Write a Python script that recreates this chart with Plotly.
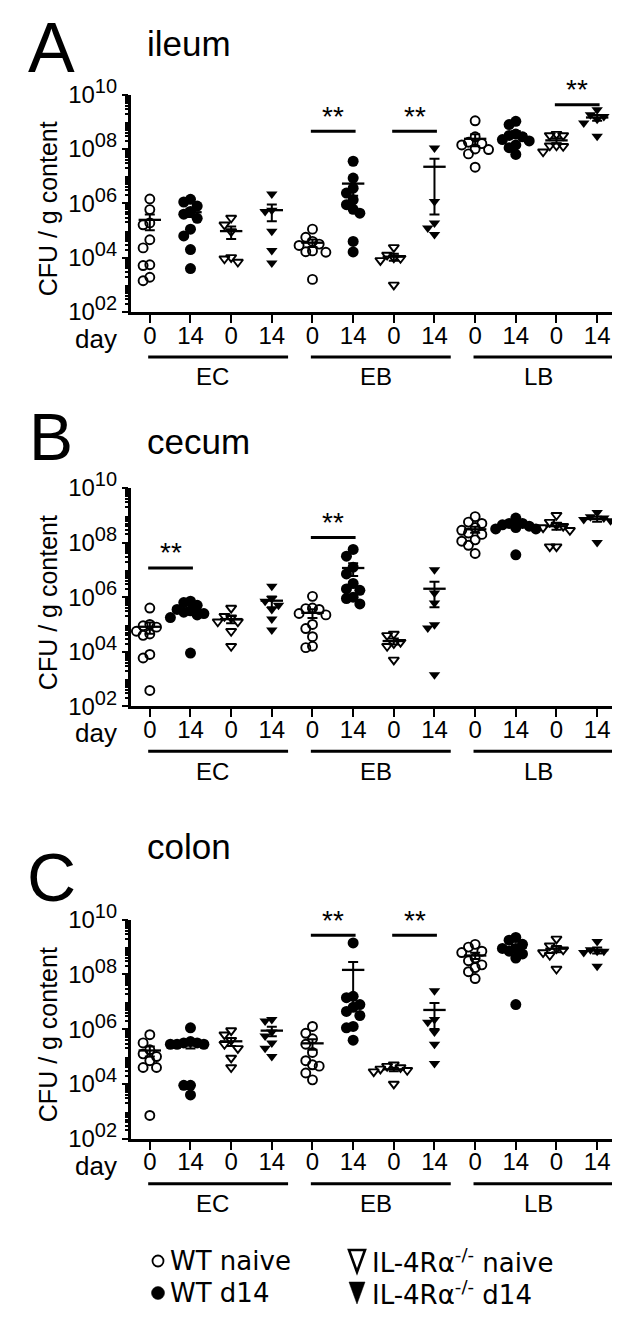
import numpy as np
import plotly.graph_objects as go

W, H = 620, 1332
FONT = "Liberation Sans, Arial, Helvetica, sans-serif"
LEG_FONT = "DejaVu Sans, Liberation Sans, Arial, sans-serif"

# ---------------- data ----------------
panel_letters = ["A", "B", "C"]
panel_titles = ["ileum", "cecum", "colon"]
infection_groups = ["EC", "EB", "LB"]
day_labels = ["0", "14", "0", "14", "0", "14", "0", "14", "0", "14", "0", "14"]
series_names = ["WT naive", "WT d14",
                "IL-4R\u03b1<sup>-/-</sup> naive", "IL-4R\u03b1<sup>-/-</sup> d14"]
y_tick_exponents = [2, 4, 6, 8, 10]
y_tick_sup = ["02", "04", "06", "08", "10"]

# log10(CFU / g content); columns: EC WT0, EC WT14, EC KO0, EC KO14, EB ..., LB ...
ileum_log10 = [
    [6.16, 5.77, 5.28, 5.21, 4.66, 4.36, 3.74, 3.71, 3.28, 3.15],
    [6.15, 6.05, 5.9, 5.7, 5.6, 5.45, 5.05, 4.8, 4.3, 3.6],
    [5.46, 5.21, 4.97, 4.01, 3.96, 3.84],
    [6.34, 5.75, 5.7, 4.97, 4.26, 3.8],
    [5.05, 4.75, 4.6, 4.5, 4.45, 4.25, 4.22, 4.2, 3.2],
    [7.55, 6.93, 6.56, 6.38, 6.13, 5.95, 5.78, 5.64, 4.6, 4.21],
    [4.38, 4.1, 4.0, 3.98, 3.9, 3.0],
    [8.04, 6.07, 5.28, 5.09, 4.85],
    [9.04, 8.45, 8.25, 8.2, 8.15, 8.0, 7.98, 7.82, 7.33],
    [9.02, 8.9, 8.55, 8.5, 8.45, 8.35, 8.3, 8.15, 8.05, 7.8],
    [8.5, 8.55, 8.5, 8.12, 8.12, 8.1, 7.9],
    [9.45, 9.26, 9.2, 9.1, 8.96, 8.47],
]
cecum_log10 = [
    [5.6, 5.0, 4.95, 4.9, 4.75, 4.65, 4.6, 3.9, 3.77, 2.58],
    [5.85, 5.8, 5.7, 5.55, 5.5, 5.45, 5.4, 5.35, 5.25, 3.95],
    [5.6, 5.3, 5.25, 5.1, 5.1, 4.75, 4.2],
    [6.4, 5.95, 5.85, 5.7, 5.55, 5.2, 4.8],
    [6.03, 5.6, 5.58, 5.55, 5.4, 5.35, 5.0, 4.85, 4.55, 4.2, 4.15],
    [7.75, 7.5, 7.1, 6.85, 6.5, 6.3, 6.25, 6.0, 5.95, 5.75],
    [4.65, 4.6, 4.35, 4.3, 4.2, 3.7],
    [7.0, 6.15, 5.79, 4.99, 4.87, 3.16],
    [8.95, 8.75, 8.7, 8.55, 8.45, 8.35, 8.3, 8.1, 8.05, 7.9, 7.6],
    [8.9, 8.7, 8.7, 8.65, 8.6, 8.55, 8.5, 8.5, 7.55],
    [9.0, 8.75, 8.65, 8.6, 8.55, 8.45, 7.85, 7.85],
    [9.1, 8.95, 8.9, 8.85, 8.8, 8.0],
]
colon_log10 = [
    [5.8, 5.5, 5.25, 5.1, 5.0, 4.85, 4.6, 4.6, 2.85],
    [6.05, 5.55, 5.5, 5.5, 5.45, 5.45, 5.45, 3.95, 3.95, 3.6],
    [5.95, 5.8, 5.6, 5.45, 5.3, 4.95, 4.6],
    [6.35, 6.3, 5.9, 5.75, 5.5, 5.3, 5.0],
    [6.1, 5.85, 5.65, 5.45, 5.15, 4.85, 4.7, 4.65, 4.4, 4.15],
    [9.15, 7.2, 7.15, 6.9, 6.8, 6.65, 6.5, 6.1, 6.05, 5.6],
    [4.7, 4.65, 4.6, 4.55, 4.5, 4.45, 4.0],
    [7.4, 6.35, 6.25, 5.9, 5.45, 4.75],
    [9.1, 9.0, 8.85, 8.8, 8.6, 8.5, 8.35, 8.25, 8.1, 7.85],
    [9.35, 9.25, 9.1, 8.95, 8.95, 8.85, 8.75, 8.6, 6.9],
    [9.3, 9.05, 8.95, 8.9, 8.8, 8.7, 8.2],
    [9.2, 8.9, 8.85, 8.85, 8.8, 8.3],
]

# significance bars: (column a, column b, bar height as log10)
ileum_sig = [(5, 6, 8.65), (7, 8, 8.65), (11, 12, 9.63)]
cecum_sig = [(1, 2, 7.07), (5, 6, 8.19)]
colon_sig = [(5, 6, 9.43), (7, 8, 9.43)]

panel_data = [ileum_log10, cecum_log10, colon_log10]
panel_sig = [ileum_sig, cecum_sig, colon_sig]

# ---------------- layout geometry (pixels) ----------------
X_LEFT, X_RIGHT = 122.7, 610.7
PLOT_TOP = [86.7, 480.0, 911.7]
PLOT_BOT = [304.0, 698.3, 1130.7]
X_RANGE = [0.53, 12.53]

symbols = ["circle-open", "circle", "triangle-down-open", "triangle-down"]
sizes = [9, 11, 9, 10]
line_w = [1.9, 0, 1.9, 0]


def swarm(vals, px_per_dec, px_per_unit, step_px=6.7, min_dy=8.5):
    vals = np.asarray(vals, dtype=float)
    order = np.argsort(-vals, kind="stable")
    placed = []
    offs = np.zeros(len(vals))
    for idx in order:
        ypx = vals[idx] * px_per_dec
        chosen = 0
        for col in [0, -1, 1, -2, 2, -3, 3]:
            if all(not (c == col and abs(ypx - yy) < min_dy) for c, yy in placed):
                chosen = col
                break
        placed.append((chosen, ypx))
        offs[idx] = chosen * step_px / px_per_unit
    return offs


fig = go.Figure()
annotations = []
shapes = []
minor_vals = [k * 10.0 ** n for n in range(2, 10) for k in range(2, 10)]
y_tick_text = [f"10<sup><span style='font-size:20px'>{s}</span></sup>" for s in y_tick_sup]


def px_to_paper_y(py):
    return 1 - py / H


for k in range(3):
    xa = "x" if k == 0 else f"x{k + 1}"
    ya = "y" if k == 0 else f"y{k + 1}"
    top, bot = PLOT_TOP[k], PLOT_BOT[k]
    px_per_dec = (bot - top) / 8.0
    px_per_unit = (X_RIGHT - X_LEFT) / (X_RANGE[1] - X_RANGE[0])
    data = panel_data[k]

    for g, vals in enumerate(data):
        s = g % 4
        v = np.asarray(vals, dtype=float)
        yv = 10.0 ** v
        offs = swarm(v, px_per_dec, px_per_unit)
        fig.add_trace(go.Scatter(
            x=(g + 1) + offs, y=yv, mode="markers", xaxis=xa, yaxis=ya,
            showlegend=False, cliponaxis=False, hoverinfo="skip",
            marker=dict(symbol=symbols[s], size=sizes[s], color="black",
                        line=dict(color="black", width=line_w[s]))))
    for g, vals in enumerate(data):
        yv = 10.0 ** np.asarray(vals, dtype=float)
        m = yv.mean()
        sem = yv.std(ddof=1) / np.sqrt(len(yv))
        fig.add_trace(go.Scatter(
            x=[g + 1], y=[m], mode="markers", xaxis=xa, yaxis=ya,
            showlegend=False, cliponaxis=False, hoverinfo="skip",
            marker=dict(symbol="line-ew-open", size=16, color="black",
                        line=dict(color="black", width=2.3)),
            error_y=dict(type="data", array=[sem], symmetric=True,
                         width=5, thickness=2, color="black")))

    for a, b, lv in panel_sig[k]:
        fig.add_trace(go.Scatter(
            x=[a - 0.04, b + 0.06], y=[10.0 ** lv, 10.0 ** lv], mode="lines",
            xaxis=xa, yaxis=ya, showlegend=False, hoverinfo="skip",
            line=dict(color="black", width=3)))
        annotations.append(dict(
            x=(a + b) / 2 + 0.01, y=lv, xref=xa, yref=ya, text="**",
            showarrow=False, yanchor="middle", yshift=15,
            font=dict(size=28, color="black", family=FONT)))

    # infection-group underlines and labels
    for gi, name in enumerate(infection_groups):
        first, last = gi * 4 + 1, gi * 4 + 4
        yl = px_to_paper_y(bot + 45)
        shapes.append(dict(type="line", xref=xa, yref="paper",
                           x0=first - 0.04, x1=last + 0.40, y0=yl, y1=yl,
                           line=dict(color="black", width=3)))
        annotations.append(dict(
            x=(first + last) / 2 + 0.05, y=px_to_paper_y(bot + 65), xref=xa,
            yref="paper", text=name, showarrow=False, yanchor="middle",
            font=dict(size=24, color="black", family=FONT)))

    annotations.append(dict(
        x=111 / W, y=px_to_paper_y(bot + 27), xref="paper", yref="paper",
        text="day", showarrow=False, xanchor="right", yanchor="middle",
        font=dict(size=26, color="black", family=FONT)))
    annotations.append(dict(
        x=40 / W, y=px_to_paper_y((top + bot) / 2 + 6), xref="paper", yref="paper",
        text="CFU / g content", showarrow=False, textangle=-90,
        xanchor="center", yanchor="middle",
        font=dict(size=25, color="black", family=FONT)))

    axis_font = dict(size=24, color="black", family=FONT)
    fig.layout[("xaxis" if k == 0 else f"xaxis{k + 1}")] = dict(
        domain=[X_LEFT / W, X_RIGHT / W], range=X_RANGE, anchor=ya,
        tickmode="array", tickvals=list(range(1, 13)), ticktext=day_labels,
        ticks="outside", ticklen=8, tickwidth=2.2, tickcolor="black",
        ticklabelstandoff=-8,
        showline=True, linecolor="black", linewidth=2.6, showgrid=False,
        zeroline=False, tickfont=axis_font, automargin=False, fixedrange=True)
    fig.layout[("yaxis" if k == 0 else f"yaxis{k + 1}")] = dict(
        domain=[px_to_paper_y(bot), px_to_paper_y(top)], type="log",
        range=[2, 10], anchor=xa, tickmode="array",
        tickvals=[10.0 ** e for e in y_tick_exponents], ticktext=y_tick_text,
        ticks="outside", ticklen=6, tickwidth=2.2, tickcolor="black",
        showline=True, linecolor="black", linewidth=2.6, showgrid=False,
        zeroline=False, tickfont=dict(size=24, color="black", family=FONT),
        minor=dict(tickmode="array", tickvals=minor_vals, ticks="outside",
                   ticklen=3, tickwidth=1.5, tickcolor="black", showgrid=False),
        automargin=False, fixedrange=True)

# panel letters and titles
letter_tops = [0, 391, 830]
letter_sizes = [70, 66, 68]
title_baselines = [48, 446, 851]
for k in range(3):
    annotations.append(dict(
        x=43 / W, y=px_to_paper_y(letter_tops[k]), xref="paper", yref="paper",
        text=panel_letters[k], showarrow=False, xanchor="center", yanchor="top",
        borderpad=0,
        font=dict(size=letter_sizes[k], color="black", family=FONT)))
    annotations.append(dict(
        x=137 / W, y=px_to_paper_y(title_baselines[k] - 0.35 * 35), xref="paper",
        yref="paper", text=panel_titles[k], showarrow=False, xanchor="left",
        yanchor="middle", font=dict(size=35, color="black", family=FONT)))

# legend (glyphs + labels)
leg_rows = [1253, 1285]
leg_sym_x = [150, 349]
leg_txt_x = [160, 362]
for s, name in enumerate(series_names):
    col, row = s // 2, s % 2
    cx, cy = leg_sym_x[col], leg_rows[row]
    if col == 0:
        r = 5.5 if s == 0 else 6.5
        shapes.append(dict(
            type="circle", xref="paper", yref="paper",
            x0=(cx - r) / W, x1=(cx + r) / W,
            y0=px_to_paper_y(cy + r), y1=px_to_paper_y(cy - r),
            fillcolor="white" if s == 0 else "black",
            line=dict(color="black", width=1.8 if s == 0 else 0.5)))
    else:
        hw, hh = 8, 11
        pts = [(cx - hw, cy - hh), (cx + hw, cy - hh), (cx, cy + hh)]
        path = "M" + " L".join(f"{px / W:.5f},{px_to_paper_y(py):.5f}" for px, py in pts) + " Z"
        shapes.append(dict(
            type="path", xref="paper", yref="paper", path=path,
            fillcolor="white" if s == 2 else "black",
            line=dict(color="black", width=2.6 if s == 2 else 0.5)))
    annotations.append(dict(
        x=leg_txt_x[col] / W, y=px_to_paper_y(cy), xref="paper", yref="paper",
        text=name, showarrow=False, xanchor="left", yanchor="middle",
        font=dict(size=26, color="black", family=LEG_FONT)))

fig.update_layout(
    width=W, height=H, template="none",
    margin=dict(l=0, r=0, t=0, b=0, pad=0),
    paper_bgcolor="white", plot_bgcolor="white",
    showlegend=False, annotations=annotations, shapes=shapes,
    font=dict(family=FONT, color="black"))

fig.write_html("out.html")
